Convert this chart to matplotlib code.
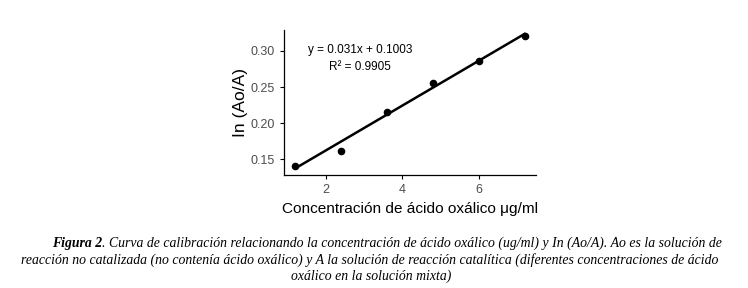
import matplotlib
matplotlib.use("Agg")
import matplotlib.pyplot as plt
import numpy as np

# datos
conc = [1.2, 2.4, 3.6, 4.8, 6.0, 7.2]
ln_ratio = [0.141, 0.162, 0.216, 0.255, 0.286, 0.321]
slope = 0.031
intercept = 0.1003
r2 = 0.9905
xticks = [2, 4, 6]
yticks = [0.15, 0.20, 0.25, 0.30]

caption_l1 = ("Curva de calibración relacionando la concentración de ácido oxálico (ug/ml) "
              "y In (Ao/A). Ao es la solución de")
caption_l2 = ("reacción no catalizada (no contenía ácido oxálico) y A la solución de reacción "
              "catalítica (diferentes concentraciones de ácido")
caption_l3 = "oxálico en la solución mixta)"

plt.rcParams['font.family'] = ['Liberation Sans', 'DejaVu Sans']

fig = plt.figure(figsize=(7.48, 2.88), dpi=100)
ax = fig.add_axes([0.3797, 0.392, 0.3369, 0.504])

ax.scatter(conc, ln_ratio, s=20, color='black', zorder=3)
xs = np.array([1.27, conc[-1]])
ax.plot(xs, slope * xs + intercept, color='black', lw=1.8)

ax.set_xlim(0.9, 7.5)
ax.set_ylim(0.128, 0.329)
ax.set_xticks(xticks)
ax.set_yticks(yticks)
ax.set_yticklabels([f"{v:.2f}" for v in yticks])
ax.tick_params(labelsize=9, labelcolor='#4d4d4d', color='black', length=3, width=0.8)
for s in ['top', 'right']:
    ax.spines[s].set_visible(False)
for s in ['left', 'bottom']:
    ax.spines[s].set_linewidth(0.9)

ax.set_xlabel("Concentración de ácido oxálico μg/ml", fontsize=11.1, labelpad=4)
ax.set_ylabel("In (Ao/A)", fontsize=12.5, labelpad=2)

ax.text(2.9, 0.301, f"y = {slope}x + {intercept}", fontsize=8.5, ha='center', va='center')
ax.text(2.9, 0.278, f"R² = {r2}", fontsize=8.5, ha='center', va='center')

# pie de figura
serif = ['Liberation Serif', 'DejaVu Serif']
fs = 9.95
t1 = fig.text(52 / 748, 1 - 243 / 288, "Figura 2", fontsize=fs, family=serif,
              style='italic', weight='bold', va='center')
fig.canvas.draw()
bb = t1.get_window_extent()
fig.text(bb.x1 / 748, 1 - 243 / 288, ". " + caption_l1, fontsize=fs, family=serif,
         style='italic', va='center')
fig.text(21 / 748, 1 - 260 / 288, caption_l2, fontsize=fs, family=serif,
         style='italic', va='center')
fig.text(371 / 748, 1 - 276 / 288, caption_l3, fontsize=fs, family=serif,
         style='italic', va='center', ha='center')

fig.savefig("out.png", dpi=100)
